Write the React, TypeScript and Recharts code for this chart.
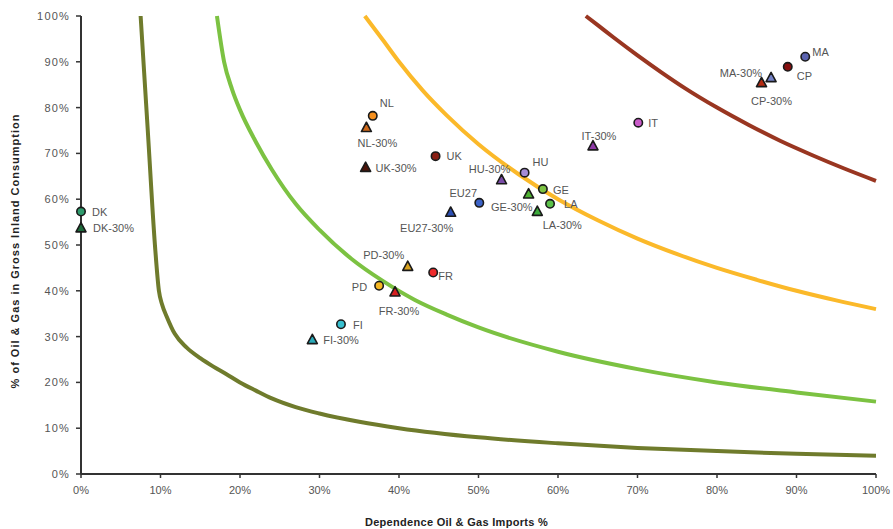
import React from 'react';
import { ComposedChart, XAxis, YAxis, Line, Scatter } from 'recharts';

// ---- data ----
const countries = ['DK', 'NL', 'UK', 'HU', 'GE', 'LA', 'EU27', 'IT', 'MA', 'CP', 'PD', 'FR', 'FI'];
const importDependence = [0, 36.7, 44.6, 55.8, 58.1, 59.0, 50.1, 70.1, 91.1, 88.9, 37.5, 44.3, 32.7];
const oilGasShare = [57.3, 78.2, 69.4, 65.8, 62.2, 59.0, 59.2, 76.7, 91.1, 88.9, 41.1, 44.0, 32.7];
const importDependence30 = [0, 35.9, 35.8, 52.9, 56.3, 57.4, 46.5, 64.4, 86.8, 85.6, 41.1, 39.5, 29.1];
const oilGasShare30 = [53.7, 75.6, 66.9, 64.2, 61.1, 57.3, 57.1, 71.6, 86.5, 85.4, 45.3, 39.7, 29.3];

const curve04X = [7.5, 8.4, 9.3, 9.8, 10.2, 10.8, 11.8, 13.3, 15, 16.6, 18.3, 20, 22, 24, 27, 30, 35, 40, 50, 60, 70, 80, 90, 100];
const curve04Y = [100, 75, 50, 40, 37, 34.3, 30.6, 27.6, 25.3, 23.5, 21.8, 20, 18.2, 16.5, 14.6, 13.2, 11.4, 10, 8, 6.7, 5.7, 5, 4.4, 4];
const curve16X = [17.1, 18, 19, 20, 22, 24, 27, 30, 34, 38, 42, 46, 50, 60, 70, 80, 90, 100];
const curve16Y = [100, 90, 84, 79.5, 72.5, 66.5, 59, 53.3, 47, 42.1, 38, 34.8, 32, 26.7, 22.9, 20, 17.8, 15.8];
const curve36X = [35.7, 38, 40, 43, 46, 50, 55, 60, 65, 70, 75, 80, 85, 90, 95, 100];
const curve36Y = [100, 94.7, 90, 83.7, 78.3, 72, 65.5, 60, 55.4, 51.4, 48, 45, 42.4, 40, 37.9, 36];
const curve64X = [63.5, 65, 67, 70, 73, 76, 80, 84, 88, 92, 96, 100];
const curve64Y = [100, 98, 95.3, 91.4, 87.7, 84.2, 80, 76.2, 72.7, 69.6, 66.7, 64];

const axisTicks = [0, 10, 20, 30, 40, 50, 60, 70, 80, 90, 100];

// ---- presentation ----
const baseColors: Record<string, string> = {
  DK: '#2f9b6d', NL: '#f5901f', UK: '#8a1e14', HU: '#a48bd6', GE: '#7cc243', LA: '#5cc24a',
  EU27: '#3c63c8', IT: '#c95bc9', MA: '#5b63b0', CP: '#860f0f', PD: '#f6b823', FR: '#ee2a2a', FI: '#38c0d0',
};
const colors30: Record<string, string> = {
  DK: '#1d6a3b', NL: '#cf6a1c', UK: '#4c1409', HU: '#7a4ca8', GE: '#4fb233', LA: '#3cab3c',
  EU27: '#2b4fb5', IT: '#8f3aa7', MA: '#7482c6', CP: '#b52a12', PD: '#d8a21e', FR: '#d62020', FI: '#2aa9b8',
};
// [dx, dy, anchor]
const labelPos: Record<string, [number, number, string]> = {
  'DK': [11, 0, 'start'], 'DK-30%': [12, 0, 'start'],
  'NL': [7, -13, 'start'], 'NL-30%': [11, 15, 'middle'],
  'UK': [11, 0, 'start'], 'UK-30%': [10, 0, 'start'],
  'HU': [8, -11, 'start'], 'HU-30%': [-12, -11, 'middle'],
  'GE': [10, 1, 'start'], 'GE-30%': [4, 13, 'end'],
  'LA': [14, 0, 'start'], 'LA-30%': [25, 13, 'middle'],
  'EU27': [-16, -10, 'middle'], 'EU27-30%': [-24, 16, 'middle'],
  'IT': [10, 0, 'start'], 'IT-30%': [6, -10, 'middle'],
  'MA': [7, -5, 'start'], 'MA-30%': [-9, -5, 'end'],
  'CP': [9, 9, 'start'], 'CP-30%': [10, 18, 'middle'],
  'PD': [-12, 1, 'end'], 'PD-30%': [-24, -12, 'middle'],
  'FR': [5, 4, 'start'], 'FR-30%': [4, 19, 'middle'],
  'FI': [12, 1, 'start'], 'FI-30%': [11, 0, 'start'],
};

const toPairs = (xs: number[], ys: number[]) => xs.map((x, i) => ({ x, y: ys[i] }));
const curve04 = toPairs(curve04X, curve04Y);
const curve16 = toPairs(curve16X, curve16Y);
const curve36 = toPairs(curve36X, curve36Y);
const curve64 = toPairs(curve64X, curve64Y);

const currentPoints = countries.map((c, i) => ({ x: importDependence[i], y: oilGasShare[i], name: c, color: baseColors[c] }));
const reducedPoints = countries.map((c, i) => ({ x: importDependence30[i], y: oilGasShare30[i], name: c + '-30%', color: colors30[c] }));

const PointLabel = ({ cx, cy, name }: { cx: number; cy: number; name: string }) => {
  const p = labelPos[name] || [10, 0, 'start'];
  return (
    <text x={cx + p[0]} y={cy + p[1]} textAnchor={p[2] as any} dominantBaseline="central"
      fontSize={11} fill="#555" fontFamily="'Liberation Sans', Arial, sans-serif">{name}</text>
  );
};

const CircleShape = (props: any) => {
  const { cx, cy, payload } = props;
  if (cx == null || cy == null) return null;
  return (
    <g>
      <circle cx={cx} cy={cy} r={4.2} fill={payload.color} stroke="#1a1a1a" strokeWidth={1.6} />
      <PointLabel cx={cx} cy={cy} name={payload.name} />
    </g>
  );
};

const TriangleShape = (props: any) => {
  const { cx, cy, payload } = props;
  if (cx == null || cy == null) return null;
  const pts = `${cx},${cy - 5.5} ${cx - 5},${cy + 3.8} ${cx + 5},${cy + 3.8}`;
  return (
    <g>
      <polygon points={pts} fill={payload.color} stroke="#1a1a1a" strokeWidth={1.6} strokeLinejoin="round" />
      <PointLabel cx={cx} cy={cy} name={payload.name} />
    </g>
  );
};

const fmt = (v: number) => `${v}%`;

const XTitle = (props: any) => {
  const vb = props.viewBox || {};
  return (
    <text x={vb.x + vb.width / 2 - 22} y={522} textAnchor="middle" dominantBaseline="central"
      fontSize={11} fontWeight="bold" fill="#222" letterSpacing={0.3}
      fontFamily="'Liberation Sans', Arial, sans-serif">Dependence Oil &amp; Gas Imports %</text>
  );
};

const YTitle = (props: any) => {
  const vb = props.viewBox || {};
  const cy = vb.y + vb.height / 2 + 6;
  return (
    <text x={15} y={cy} transform={`rotate(-90, 15, ${cy})`} textAnchor="middle" dominantBaseline="central"
      fontSize={11} fontWeight="bold" fill="#222" letterSpacing={1}
      fontFamily="'Liberation Sans', Arial, sans-serif">% of Oil &amp; Gas in Gross Inland Consumption</text>
  );
};

export default function App() {
  const tickStyle = { fontSize: 11, fill: '#555', fontFamily: "'Liberation Sans', Arial, sans-serif" };
  return (
    <div style={{ position: 'absolute', left: 0, top: 0, width: 893, height: 529, background: '#fff' }}>
      <ComposedChart width={893} height={529} margin={{ top: 16, right: 17, bottom: 0, left: 0 }}>
        <XAxis type="number" dataKey="x" domain={[0, 100]} ticks={axisTicks} tickFormatter={fmt}
          height={55} tickSize={4} tickMargin={8} tick={tickStyle}
          axisLine={{ stroke: '#333', strokeWidth: 2 }} tickLine={{ stroke: '#333', strokeWidth: 1.5 }}
          label={<XTitle />} />
        <YAxis type="number" dataKey="y" domain={[0, 100]} ticks={axisTicks} tickFormatter={fmt}
          width={81} tickSize={5} tickMargin={6}
          tick={{ ...tickStyle, letterSpacing: 1.2 } as any}
          axisLine={{ stroke: '#333', strokeWidth: 2 }} tickLine={{ stroke: '#333', strokeWidth: 1.5 }}
          label={<YTitle />} />
        <Line data={curve04} dataKey="y" type="monotone" stroke="#6f7b2c" strokeWidth={4} dot={false}
          activeDot={false} isAnimationActive={false} />
        <Line data={curve16} dataKey="y" type="monotone" stroke="#7cc242" strokeWidth={4} dot={false}
          activeDot={false} isAnimationActive={false} />
        <Line data={curve36} dataKey="y" type="monotone" stroke="#fbb92a" strokeWidth={4} dot={false}
          activeDot={false} isAnimationActive={false} />
        <Line data={curve64} dataKey="y" type="monotone" stroke="#993621" strokeWidth={4} dot={false}
          activeDot={false} isAnimationActive={false} />
        <Scatter data={reducedPoints} shape={<TriangleShape />} isAnimationActive={false} />
        <Scatter data={currentPoints} shape={<CircleShape />} isAnimationActive={false} />
      </ComposedChart>
    </div>
  );
}
